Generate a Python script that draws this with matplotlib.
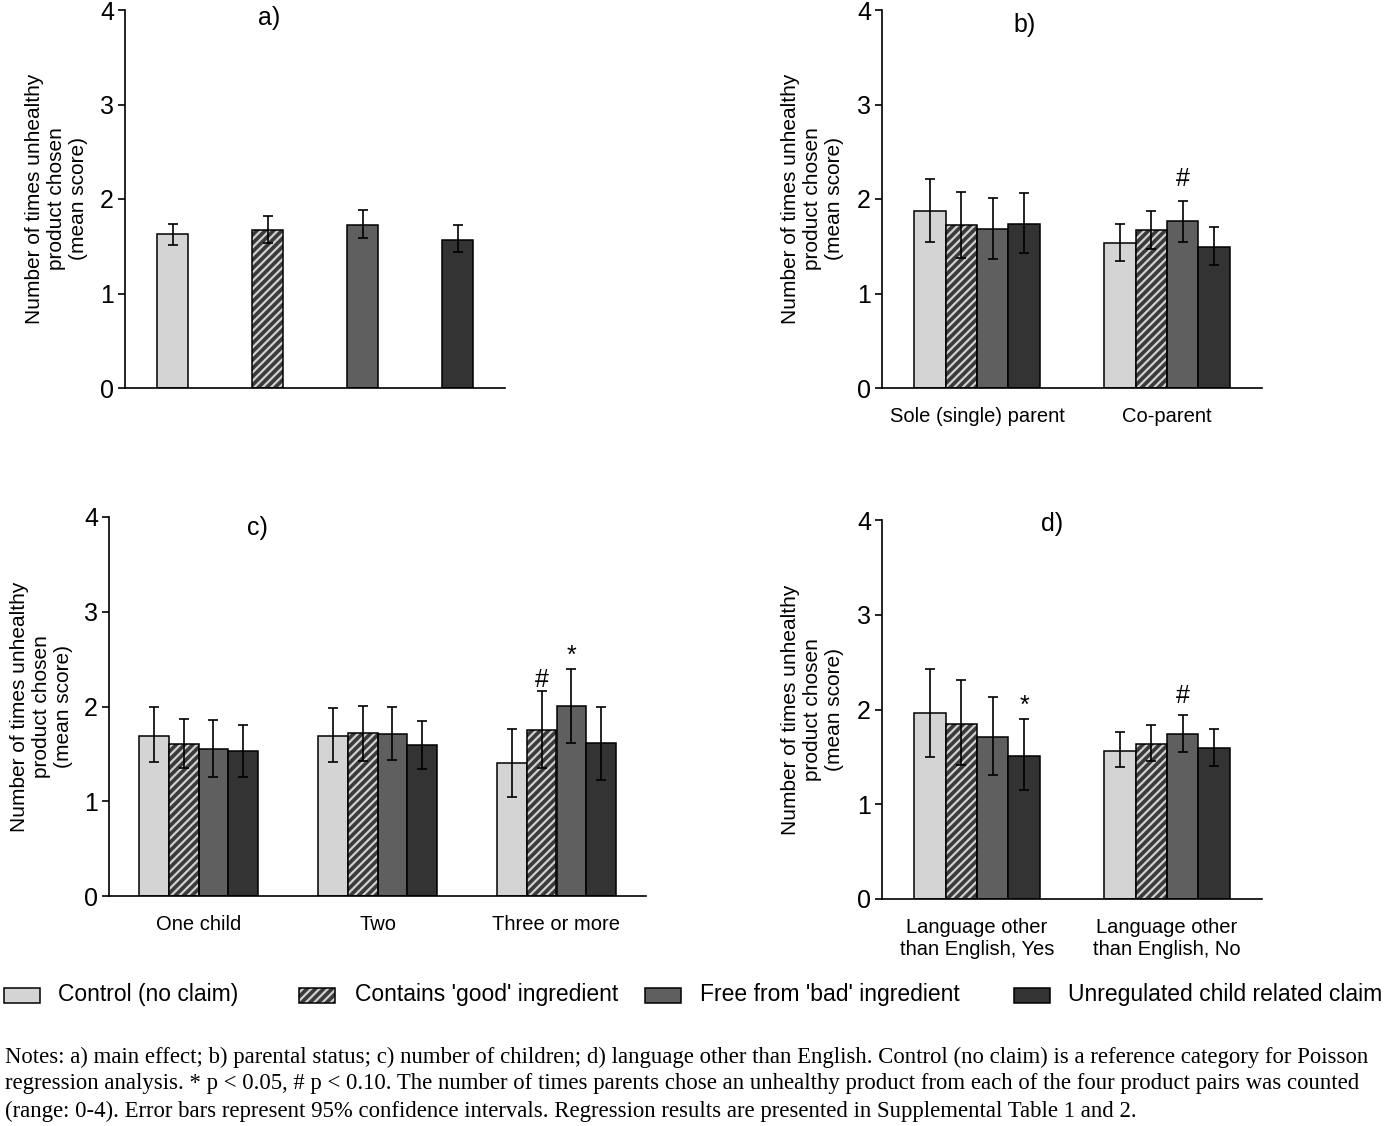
import numpy as np
import matplotlib
matplotlib.use("Agg")
import matplotlib.pyplot as plt
from matplotlib.patches import Rectangle
from matplotlib import font_manager

plt.rcParams['font.family'] = ['Liberation Sans', 'DejaVu Sans']
plt.rcParams['hatch.linewidth'] = 1.6

series = ["Control (no claim)", "Contains 'good' ingredient",
          "Free from 'bad' ingredient", "Unregulated child related claim"]
face = ["#d4d4d4", "#3a3a3a", "#5f5f5f", "#333333"]
ylabel = "Number of times unhealthy\nproduct chosen\n(mean score)"

# a) main effect
a_mean = [1.63, 1.67, 1.73, 1.57]
a_lo = [1.51, 1.53, 1.59, 1.44]
a_hi = [1.74, 1.815, 1.885, 1.72]

# b) parental status  (rows = series, cols = groups)
b_groups = ["Sole (single) parent", "Co-parent"]
b_mean = [[1.875, 1.53], [1.72, 1.67], [1.68, 1.77], [1.74, 1.49]]
b_lo = [[1.54, 1.34], [1.38, 1.47], [1.37, 1.55], [1.43, 1.30]]
b_hi = [[2.21, 1.74], [2.07, 1.87], [2.01, 1.98], [2.06, 1.70]]
b_marks = [(1, 2, "#", 2.14)]

# c) number of children
c_groups = ["One child", "Two", "Three or more"]
c_mean = [[1.69, 1.69, 1.40], [1.60, 1.72, 1.75], [1.55, 1.71, 2.01], [1.53, 1.59, 1.61]]
c_lo = [[1.41, 1.41, 1.05], [1.35, 1.43, 1.35], [1.26, 1.44, 1.62], [1.26, 1.34, 1.22]]
c_hi = [[1.99, 1.98, 1.76], [1.87, 2.01, 2.16], [1.86, 1.99, 2.40], [1.80, 1.85, 2.00]]
c_marks = [(2, 1, "#", 2.21), (2, 2, "*", 2.46)]

# d) language other than English
d_groups = ["Language other\nthan English, Yes", "Language other\nthan English, No"]
d_mean = [[1.96, 1.56], [1.85, 1.64], [1.71, 1.74], [1.51, 1.59]]
d_lo = [[1.50, 1.39], [1.41, 1.46], [1.31, 1.55], [1.15, 1.40]]
d_hi = [[2.43, 1.76], [2.31, 1.835], [2.13, 1.94], [1.90, 1.79]]
d_marks = [(0, 3, "*", 1.96), (1, 2, "#", 2.07)]

notes = [
    "Notes: a) main effect; b) parental status; c) number of children; d) language other than English. "
    "Control (no claim) is a reference category for Poisson",
    "regression analysis. * p < 0.05, # p < 0.10. The number of times parents chose an unhealthy product "
    "from each of the four product pairs was counted",
    "(range: 0-4). Error bars represent 95% confidence intervals. Regression results are presented in "
    "Supplemental Table 1 and 2.",
]

W, H = 1386, 1126
fig = plt.figure(figsize=(W / 100, H / 100), dpi=100)


def box(l, r, t, b):
    return [l / W, 1 - b / H, (r - l) / W, (b - t) / H]


def draw_bars(ax, x, h, width, i):
    if i == 1:
        ax.bar(x, h, width, color=face[i], edgecolor="#cfcfcf", hatch="////", linewidth=0, zorder=2)
        ax.bar(x, h, width, fill=False, edgecolor="black", linewidth=1.1, zorder=3)
    else:
        ax.bar(x, h, width, color=face[i], edgecolor="black", linewidth=1.1, zorder=2)


def style(ax, nx, title, tx, ty, ylx):
    ax.set_ylim(0, 4)
    ax.set_xlim(-0.5, nx - 0.5)
    ax.set_yticks([0, 1, 2, 3, 4])
    for s in ["top", "right"]:
        ax.spines[s].set_visible(False)
    for s in ["left", "bottom"]:
        ax.spines[s].set_linewidth(1.2)
    ax.tick_params(axis="y", labelsize=18, length=5, width=1.2, pad=3)
    ax.tick_params(axis="x", labelsize=14.5, length=0, pad=14)
    ax.text(tx, ty, title, transform=ax.transAxes, ha="center", va="center", fontsize=18)
    ax.text(ylx, 0.5, ylabel, transform=ax.transAxes, rotation=90, ha="center", va="center",
            fontsize=15, multialignment="center")


def grouped(ax, groups, mean, lo, hi, marks):
    x = np.arange(len(groups))
    w = 0.165
    for i in range(4):
        xi = x + (i - 1.5) * w
        m = np.array(mean[i])
        draw_bars(ax, xi, m, w, i)
        ax.errorbar(xi, m, yerr=[m - np.array(lo[i]), np.array(hi[i]) - m], fmt="none",
                    ecolor="black", elinewidth=1.2, capsize=3.5, capthick=1.2, zorder=4)
    for g, i, sym, y in marks:
        ax.text(g + (i - 1.5) * w, y, sym, ha="center", va="baseline", fontsize=18)
    ax.set_xticks(x)
    ax.set_xticklabels(groups)


# panel a
ax_a = fig.add_axes(box(125, 505, 10, 388))
xa = np.arange(4)
for i in range(4):
    draw_bars(ax_a, xa[i], a_mean[i], 0.316, i)
m = np.array(a_mean)
ax_a.errorbar(xa, m, yerr=[m - np.array(a_lo), np.array(a_hi) - m], fmt="none",
              ecolor="black", elinewidth=1.2, capsize=3.5, capthick=1.2, zorder=4)
ax_a.set_xticks([])
style(ax_a, 4, "a)", 0.38, 0.98, -0.179)

# panel b
ax_b = fig.add_axes(box(882, 1262, 10, 388))
grouped(ax_b, b_groups, b_mean, b_lo, b_hi, b_marks)
style(ax_b, 2, "b)", 0.376, 0.96, -0.184)

# panel c
ax_c = fig.add_axes(box(109, 646, 517, 896))
grouped(ax_c, c_groups, c_mean, c_lo, c_hi, c_marks)
style(ax_c, 3, "c)", 0.277, 0.97, -0.125)

# panel d
ax_d = fig.add_axes(box(882, 1262, 520, 899))
grouped(ax_d, d_groups, d_mean, d_lo, d_hi, d_marks)
style(ax_d, 2, "d)", 0.447, 0.99, -0.184)

# legend drawn by hand along the bottom
names = {f.name for f in font_manager.fontManager.ttflist}
if "Liberation Sans Narrow" in names:
    leg_font, leg_size = "Liberation Sans Narrow", 20
else:
    leg_font, leg_size = "Liberation Sans", 16.5
patch_x = [4, 299, 645, 1014]
text_x = [58, 355, 700, 1068]
ly = 995
for i in range(4):
    r = (patch_x[i] / W, 1 - (ly + 7.5) / H)
    if i == 1:
        fig.add_artist(Rectangle(r, 36 / W, 15 / H, transform=fig.transFigure,
                                 facecolor=face[i], edgecolor="#cfcfcf", hatch="////", linewidth=0))
        fig.add_artist(Rectangle(r, 36 / W, 15 / H, transform=fig.transFigure,
                                 fill=False, edgecolor="black", linewidth=1.1))
    else:
        fig.add_artist(Rectangle(r, 36 / W, 15 / H, transform=fig.transFigure,
                                 facecolor=face[i], edgecolor="black", linewidth=1.1))
    fig.text(text_x[i] / W, 1 - ly / H, series[i], ha="left", va="center",
             fontsize=leg_size, family=leg_font)

for k, line in enumerate(notes):
    fig.text(5 / W, 1 - (1057 + 27 * k) / H, line, ha="left", va="center",
             fontsize=16.4, family="Liberation Serif")

fig.savefig("out.png", dpi=100)
